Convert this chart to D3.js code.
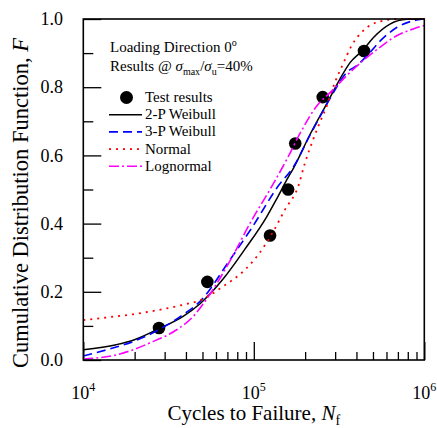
<!DOCTYPE html>
<html lang="en">
<head>
<meta charset="utf-8">
<title>CDF of fatigue life</title>
<script src="https://cdn.jsdelivr.net/npm/d3@7/dist/d3.min.js"></script>
<style>
  body { margin: 0; background: #fff; }
  text { font-family: "Liberation Serif", "Times New Roman", Times, "DejaVu Serif", serif; }
  .tick line { stroke: #000; stroke-width: 1.3; }
  .curve { fill: none; }
</style>
</head>
<body>
<script>
// test results (median ranks)
var testN = [27800, 53400, 124500, 159000, 175000, 253500, 443000];
var testF = [0.094, 0.229, 0.365, 0.500, 0.635, 0.771, 0.906];

// fitted curves: [cycles, F]
var weibull2P = [[1e4,.030],[1.56e4,.045],[1.96e4,.058],[2.78e4,.092],[3.85e4,.128],[4.84e4,.165],
  [6.62e4,.238],[8.87e4,.325],[1.19e5,.420],[1.36e5,.472],[1.56e5,.528],[1.71e5,.563],[2.14e5,.662],
  [2.68e5,.752],[3.2e5,.824],[3.67e5,.872],[4.39e5,.910],[5.02e5,.945],[6.29e5,.985],[7.9e5,.999],[1e6,1]];
var weibull3P = [[1e4,.012],[1.56e4,.038],[1.96e4,.054],[2.78e4,.089],[3.85e4,.133],[4.84e4,.172],
  [7.25e4,.294],[9.72e4,.387],[1.39e5,.510],[1.71e5,.567],[2.14e5,.660],[2.68e5,.750],[2.93e5,.784],
  [3.5e5,.843],[4.01e5,.863],[4.8e5,.902],[5.5e5,.935],[6.89e5,.975],[9.02e5,.997],[1e6,1]];
var normal = [[1e4,.117],[1.56e4,.128],[1.96e4,.134],[2.45e4,.142],[3.85e4,.162],[4.84e4,.175],
  [6.62e4,.216],[8.68e4,.260],[1.063e5,.309],[1.301e5,.377],[1.524e5,.441],[1.824e5,.510],[1.996e5,.578],
  [2.234e5,.648],[2.39e5,.686],[2.68e5,.745],[2.99e5,.814],[3.35e5,.870],[3.75e5,.922],[4.39e5,.966],
  [5.5e5,.993],[7e5,1],[1e6,1]];
var lognormal = [[1e4,.003],[1.56e4,.015],[1.96e4,.030],[2.45e4,.050],[3.51e4,.088],[4.4e4,.127],
  [5.06e4,.165],[7.41e4,.299],[9.72e4,.410],[1.245e5,.500],[1.56e5,.588],[1.87e5,.665],[2.34e5,.745],
  [2.8e5,.784],[3.84e5,.853],[5.26e5,.910],[6.89e5,.951],[8.62e5,.971],[1e6,.981]];

var yMajor = [0, 0.2, 0.4, 0.6, 0.8, 1.0];
var yMinor = [0.1, 0.3, 0.5, 0.7, 0.9];
var xMajor = [1e4, 1e5, 1e6];
var xExp = ["4", "5", "6"];
var xMinor = [2e4,3e4,4e4,5e4,6e4,7e4,8e4,9e4,2e5,3e5,4e5,5e5,6e5,7e5,8e5,9e5];

var series = [
  {name: "2-P Weibull", data: weibull2P, color: "#000000", dash: null, w: 1.5},
  {name: "3-P Weibull", data: weibull3P, color: "#0000ff", dash: "9,5", w: 1.6},
  {name: "Normal", data: normal, color: "#ff0000", dash: "2,5", w: 1.8},
  {name: "Lognormal", data: lognormal, color: "#ff00ff", dash: "10,3,2,3", w: 1.6}
];

var width = 437, height = 428;
var plotL = 83.3, plotR = 424.3, plotT = 19, plotB = 360;

var svg = d3.select("body").append("svg")
  .attr("width", width)
  .attr("height", height)
  .attr("font-family", "'Liberation Serif', 'Times New Roman', serif");

var x = d3.scaleLog().domain([1e4, 1e6]).range([plotL, plotR]);
var y = d3.scaleLinear().domain([0, 1]).range([plotB, plotT]);

// ticks point inward
svg.append("g").attr("transform", "translate(0," + plotB + ")")
  .call(d3.axisBottom(x).tickValues(xMinor).tickSizeInner(-8).tickSizeOuter(0).tickFormat(""))
  .call(function(g){ g.select(".domain").remove(); });
svg.append("g").attr("transform", "translate(0," + plotB + ")")
  .call(d3.axisBottom(x).tickValues(xMajor).tickSizeInner(-18).tickSizeOuter(0).tickFormat(""))
  .call(function(g){ g.select(".domain").remove(); });
svg.append("g").attr("transform", "translate(" + plotL + ",0)")
  .call(d3.axisLeft(y).tickValues(yMinor).tickSizeInner(-10).tickSizeOuter(0).tickFormat(""))
  .call(function(g){ g.select(".domain").remove(); });
svg.append("g").attr("transform", "translate(" + plotL + ",0)")
  .call(d3.axisLeft(y).tickValues(yMajor).tickSizeInner(-18).tickSizeOuter(0).tickFormat(""))
  .call(function(g){ g.select(".domain").remove(); });

// y tick labels
svg.selectAll(".ylab").data(yMajor).enter().append("text")
  .attr("class", "ylab")
  .attr("x", 63)
  .attr("y", function(d){ return y(d); })
  .attr("dy", "0.34em")
  .attr("text-anchor", "end")
  .style("font-size", "18px")
  .text(d3.format(".1f"));

// x tick labels 10^n
var xl = svg.selectAll(".xlab").data(xMajor).enter().append("text")
  .attr("class", "xlab")
  .attr("x", function(d){ return x(d); })
  .attr("y", 399)
  .attr("text-anchor", "middle")
  .style("font-size", "18px");
xl.append("tspan").text("10");
xl.append("tspan").attr("dy", -8).style("font-size", "12px")
  .text(function(d, i){ return xExp[i]; });

// axis titles
var xt = svg.append("text")
  .attr("x", (plotL + plotR) / 2)
  .attr("y", 420)
  .attr("text-anchor", "middle")
  .style("font-size", "21px");
xt.append("tspan").text("Cycles to Failure, ");
xt.append("tspan").style("font-style", "italic").text("N");
xt.append("tspan").attr("dy", 5).style("font-size", "14px").text("f");

var yt = svg.append("text")
  .attr("transform", "translate(28,203) rotate(-90)")
  .attr("text-anchor", "middle")
  .style("font-size", "22.5px");
yt.append("tspan").text("Cumulative Distribution Function, ");
yt.append("tspan").style("font-style", "italic").text("F");

// test points
svg.selectAll(".pt").data(testN).enter().append("circle")
  .attr("class", "pt")
  .attr("cx", function(d){ return x(d); })
  .attr("cy", function(d, i){ return y(testF[i]); })
  .attr("r", 6.3)
  .attr("fill", "#000");

// fitted curves
var line = d3.line()
  .x(function(d){ return x(d[0]); })
  .y(function(d){ return y(d[1]); })
  .curve(d3.curveMonotoneX);

svg.selectAll(".curve").data(series).enter().append("path")
  .attr("class", "curve")
  .attr("d", function(d){ return line(d.data); })
  .attr("stroke", function(d){ return d.color; })
  .attr("stroke-width", function(d){ return d.w; })
  .attr("stroke-dasharray", function(d){ return d.dash; });

// frame
svg.append("rect")
  .attr("x", plotL).attr("y", plotT)
  .attr("width", plotR - plotL).attr("height", plotB - plotT)
  .attr("fill", "none").attr("stroke", "#000").attr("stroke-width", 1.6);

// annotation
var a1 = svg.append("text").attr("x", 110).attr("y", 51.5).style("font-size", "15px");
a1.append("tspan").text("Loading Direction 0");
a1.append("tspan").attr("dy", -6).style("font-size", "10px").text("o");
var a2 = svg.append("text").attr("x", 110).attr("y", 71).style("font-size", "15px");
a2.append("tspan").text("Results @ ");
a2.append("tspan").style("font-style", "italic").text("\u03c3");
a2.append("tspan").attr("dy", 4).style("font-size", "10px").text("max");
a2.append("tspan").attr("dy", -4).text("/");
a2.append("tspan").style("font-style", "italic").text("\u03c3");
a2.append("tspan").attr("dy", 4).style("font-size", "10px").text("u");
a2.append("tspan").attr("dy", -4).text("=40%");

// legend
var legY0 = 97.5, legStep = 17.2;
svg.append("circle").attr("cx", 126.5).attr("cy", legY0).attr("r", 6.5).attr("fill", "#000");
svg.append("text").attr("x", 145).attr("y", legY0 + 4.5).style("font-size", "15px").text("Test results");
var leg = svg.selectAll(".leg").data(series).enter().append("g")
  .attr("class", "leg")
  .attr("transform", function(d, i){ return "translate(0," + (legY0 + (i + 1) * legStep) + ")"; });
leg.append("line")
  .attr("x1", 109).attr("x2", 142).attr("y1", 0).attr("y2", 0)
  .attr("stroke", function(d){ return d.color; })
  .attr("stroke-width", function(d){ return d.w; })
  .attr("stroke-dasharray", function(d){ return d.dash; });
leg.append("text").attr("x", 145).attr("y", 4.5).style("font-size", "15px")
  .text(function(d){ return d.name; });
</script>
</body>
</html>
